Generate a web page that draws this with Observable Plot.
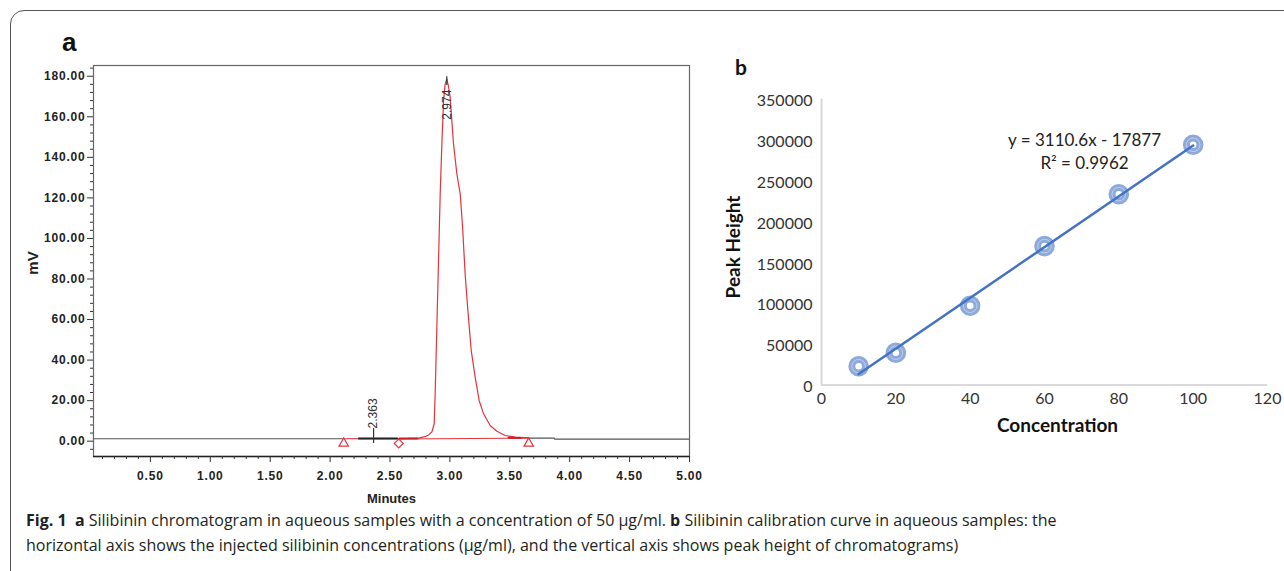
<!DOCTYPE html>
<html><head><meta charset="utf-8">
<script src="https://cdn.jsdelivr.net/npm/d3@7"></script>
<script src="https://cdn.jsdelivr.net/npm/@observablehq/plot@0.6"></script>
<style>
html,body{margin:0;padding:0;background:#fff;}
#fig{position:relative;width:1284px;height:571px;overflow:hidden;background:#fff;}
#border{position:absolute;left:10px;top:10px;width:1400px;height:700px;border:1.5px solid #555;border-radius:14px;box-sizing:border-box;}
.plab{position:absolute;font-weight:bold;color:#111;line-height:1;}
#pa{position:absolute;left:0;top:0;}
#pb{position:absolute;left:700px;top:40px;}
#pa svg g[aria-label="x-axis tick label"] text,#pa svg g[aria-label="y-axis tick label"] text{letter-spacing:0.8px;}
#cap{position:absolute;left:26px;top:508px;font-family:"Open Sans",sans-serif;font-size:16px;line-height:25px;color:#231f20;white-space:nowrap;}
</style></head>
<body>
<div id="fig">
  <div id="border"></div>
  <div class="plab" style="left:62px;top:29px;font-family:'Liberation Sans',Arial,sans-serif;font-size:26px;">a</div>
  <div class="plab" style="left:735px;top:56px;font-family:Lato,sans-serif;font-size:21px;">b</div>
  <div id="pa"></div>
  <div id="pb"></div>
  <div id="cap">
    <div><b>Fig. 1</b>&nbsp; <b>a</b> Silibinin chromatogram in aqueous samples with a concentration of 50 µg/ml. <b>b</b> Silibinin calibration curve in aqueous samples: the</div>
    <div>horizontal axis shows the injected silibinin concentrations (µg/ml), and the vertical axis shows peak height of chromatograms)</div>
  </div>
</div>
<script>
// ---------- Panel a: chromatogram ----------
const xTicksA = [0.5, 1.0, 1.5, 2.0, 2.5, 3.0, 3.5, 4.0, 4.5, 5.0];
const yTicksA = [0, 20, 40, 60, 80, 100, 120, 140, 160, 180];
const xDomainA = [0.025, 5.0];
const yDomainA = [-7.55, 185.3];

// detector signal before the integrated peak (gray)
const preTime = [0.025, 2.114];
const preMv = [1.2, 1.2];
// integrated peak region (red)
const peakTime = [2.114, 2.30, 2.50, 2.65, 2.738, 2.80, 2.822, 2.849, 2.869, 2.877, 2.891, 2.905, 2.919, 2.933, 2.947, 2.960, 2.974, 2.988, 3.002, 3.030, 3.058, 3.086, 3.106, 3.127, 3.150, 3.178, 3.211, 3.244, 3.281, 3.336, 3.392, 3.461, 3.545, 3.658];
const peakMv = [1.2, 1.25, 1.3, 1.35, 1.5, 2.4, 3.1, 4.5, 8.6, 23.4, 56, 89, 122, 146.7, 168, 176, 178.7, 175, 169.7, 146.7, 131.9, 122, 105.5, 82.6, 64.5, 44.7, 31.6, 20.1, 13.5, 7.7, 4.9, 2.8, 2.0, 1.6];
// signal after the peak (gray)
const postTime = [3.658, 3.872, 3.876, 5.0];
const postMv = [1.5, 1.5, 1.0, 1.0];
// integration baseline under the peak
const intTime = [2.573, 3.658];
const intMv = [1.1, 1.5];
// emphasised baseline segments
const blackSegTime = [2.24, 2.56];
const blackSegMv = [1.3, 1.3];
const redSegTime = [2.58, 2.73];
const redSegMv = [1.3, 1.35];
const redSeg2Time = [3.49, 3.59];
const redSeg2Mv = [1.7, 1.6];
// peak start / end markers
const triTime = [2.114, 3.658];
const triMv = [-1.1, -1.1];
const diaTime = [2.573];
const diaMv = [-1.1];
// retention time labels
const rtLabels = ["2.363", "2.974"];
const rtTime = [2.363, 2.974];
const rtLabelMv = [13.7, 166];
const rtTickLow = [-1.1, 175.4];
const rtTickHigh = [6.3, 179.8];

const pts = (xs, ys) => xs.map((x, i) => ({x, y: ys[i]}));
const red = "#e3343e";
const xMinorA = d3.range(1, 50).map(i => i / 10).filter(v => Math.round(v * 10) % 5 !== 0);
const yMinorA = d3.range(-4, 185, 4).filter(v => v % 20 !== 0);

const plotA = Plot.plot({
  width: 720, height: 520,
  marginLeft: 93, marginRight: 31, marginTop: 65, marginBottom: 64,
  x: {domain: xDomainA},
  y: {domain: yDomainA},
  style: {fontFamily: "'Liberation Sans', Arial, sans-serif", fontSize: "12px", fontWeight: "bold", color: "#222", background: "transparent"},
  marks: [
    Plot.frame({stroke: "#666", strokeWidth: 1.2}),
    Plot.ruleY([yDomainA[0]], {stroke: "#222", strokeWidth: 1.6}),
    Plot.axisX({ticks: xMinorA, tickSize: 3, tickFormat: () => "", label: null, stroke: "#333"}),
    Plot.axisX({ticks: xTicksA, tickSize: 6, tickPadding: 9, tickFormat: d3.format(".2f"), label: null, stroke: "#333", fill: "#222"}),
    Plot.axisY({ticks: yMinorA, tickSize: 3, tickFormat: () => "", label: null, stroke: "#333"}),
    Plot.axisY({ticks: yTicksA, tickSize: 6, tickPadding: 2, tickFormat: d3.format(".2f"), label: null, stroke: "#333", fill: "#222"}),
    Plot.line(pts(preTime, preMv), {x: "x", y: "y", stroke: "#555", strokeWidth: 1.1}),
    Plot.line(pts(postTime, postMv), {x: "x", y: "y", stroke: "#555", strokeWidth: 1.1}),
    Plot.line(pts(intTime, intMv), {x: "x", y: "y", stroke: red, strokeWidth: 1.1}),
    Plot.line(pts(peakTime, peakMv), {x: "x", y: "y", stroke: red, strokeWidth: 1.2}),
    Plot.line(pts(blackSegTime, blackSegMv), {x: "x", y: "y", stroke: "#222", strokeWidth: 2}),
    Plot.line(pts(redSegTime, redSegMv), {x: "x", y: "y", stroke: "#c8202a", strokeWidth: 2}),
    Plot.line(pts(redSeg2Time, redSeg2Mv), {x: "x", y: "y", stroke: "#c8202a", strokeWidth: 2}),
    Plot.dot(pts(triTime, triMv), {x: "x", y: "y", symbol: "triangle2", r: 4.5, stroke: red, strokeWidth: 1.2, fill: "white"}),
    Plot.dot(pts(diaTime, diaMv), {x: "x", y: "y", symbol: "diamond2", r: 4, stroke: red, strokeWidth: 1.2, fill: "white"}),
    Plot.ruleX(rtTime.map((t, i) => ({x: t, y1: rtTickLow[i], y2: rtTickHigh[i]})), {x: "x", y1: "y1", y2: "y2", stroke: "#333", strokeWidth: 1.2}),
    Plot.text(rtLabels.map((s, i) => ({s, x: rtTime[i], y: rtLabelMv[i]})), {x: "x", y: "y", text: "s", rotate: -90, fontSize: 12, fontWeight: "normal", fill: "#333"}),
    Plot.text(["mV"], {frameAnchor: "left", textAnchor: "middle", dx: -60, dy: 2, rotate: -90, fontSize: 15, fill: "#222"}),
    Plot.text(["Minutes"], {frameAnchor: "bottom", dy: 46, fontSize: 13, fill: "#222"})
  ]
});
document.getElementById("pa").appendChild(plotA);

// ---------- Panel b: calibration curve ----------
const concentration = [10, 20, 40, 60, 80, 100];
const peakHeight = [23000, 39500, 97000, 170000, 233500, 294000];
const xTicksB = [0, 20, 40, 60, 80, 100, 120];
const yTicksB = [0, 50000, 100000, 150000, 200000, 250000, 300000, 350000];
const equationLines = ["y = 3110.6x - 17877", "R\u00B2 = 0.9962"];
const calib = concentration.map((c, i) => ({c, h: peakHeight[i]}));

const plotB = Plot.plot({
  width: 584, height: 420,
  marginLeft: 121, marginRight: 17, marginTop: 58.5, marginBottom: 75.5,
  x: {domain: [0, 120]},
  y: {domain: [0, 350000]},
  style: {fontFamily: "Lato, 'Open Sans', sans-serif", fontSize: "16px", color: "#333", background: "transparent"},
  marks: [
    Plot.ruleX([0], {stroke: "#d9d9d9", strokeWidth: 2}),
    Plot.ruleY([0], {stroke: "#d9d9d9", strokeWidth: 2}),
    Plot.axisX({ticks: xTicksB, tickSize: 0, tickPadding: 8, tickFormat: d3.format("d"), label: null, fill: "#333"}),
    Plot.axisY({ticks: yTicksB, tickSize: 0, tickPadding: 9, tickFormat: d3.format("d"), label: null, fill: "#333", dy: 2}),
    Plot.dot(calib, {x: "c", y: "h", r: 10.3, fill: "#8eaadb"}),
    Plot.dot(calib, {x: "c", y: "h", r: 6.8, fill: "none", stroke: "#c9d7f0", strokeWidth: 1, strokeOpacity: 0.8}),
    Plot.dot(calib, {x: "c", y: "h", r: 3.3, fill: "white"}),
    Plot.linearRegressionY(calib, {x: "c", y: "h", stroke: "#4472c4", strokeWidth: 2.5, ci: 0}),
    Plot.text([equationLines[0]], {frameAnchor: "top-left", textAnchor: "middle", dx: 263, dy: 34.5, fontSize: 17, fill: "#222"}),
    Plot.text([equationLines[1]], {frameAnchor: "top-left", textAnchor: "middle", dx: 263, dy: 57.5, fontSize: 17, fill: "#222"}),
    Plot.text(["Peak Height"], {frameAnchor: "left", textAnchor: "middle", dx: -88, dy: 5, rotate: -90, fontSize: 19, fontWeight: "bold", fill: "#111"}),
    Plot.text(["Concentration"], {frameAnchor: "bottom", dx: 13, dy: 47, fontSize: 19, fontWeight: "bold", fill: "#111"})
  ]
});
document.getElementById("pb").appendChild(plotB);
</script>
</body></html>
